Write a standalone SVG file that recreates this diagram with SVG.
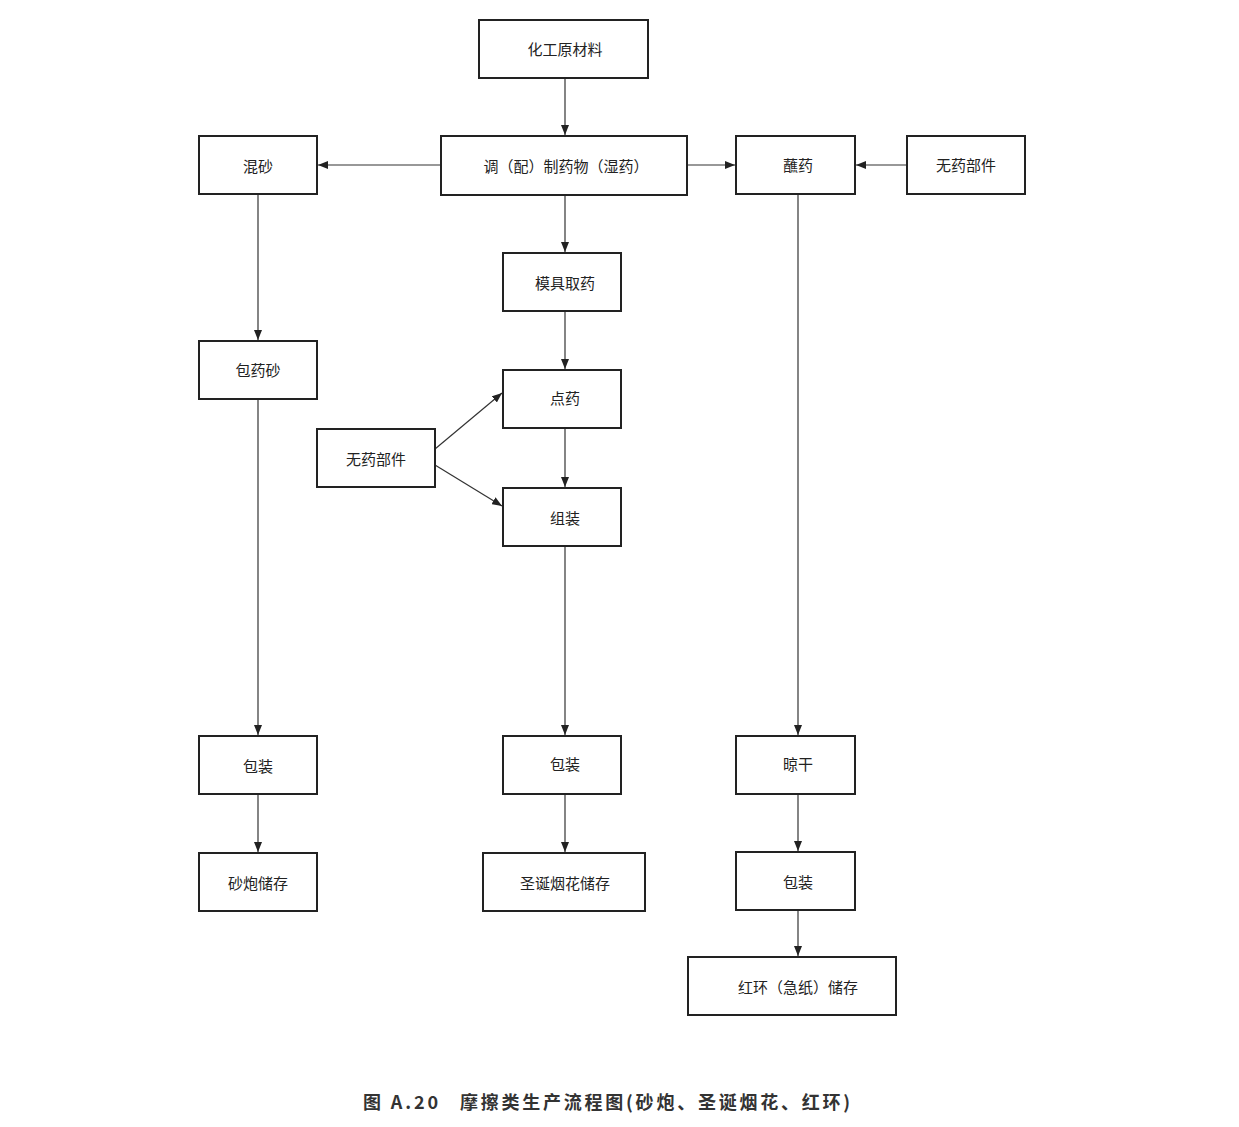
<svg xmlns="http://www.w3.org/2000/svg" width="1239" height="1127" viewBox="0 0 1239 1127">
<defs>
<style>
.box{fill:#fff;stroke:#222;stroke-width:2}
.t{font-family:"Noto Sans CJK SC","Liberation Sans",sans-serif;font-size:15px;fill:#222;text-anchor:middle;dominant-baseline:central}
.c{stroke:#333;stroke-width:1.2;fill:none;marker-end:url(#ah)}
.cap{font-family:"Noto Sans CJK SC","Liberation Sans",sans-serif;font-size:18px;font-weight:bold;fill:#333}
</style>
<marker id="ah" viewBox="0 0 10 8" refX="10" refY="4" markerWidth="10" markerHeight="8" markerUnits="userSpaceOnUse" orient="auto">
<path d="M0,0 L10,4 L0,8 Z" fill="#222"/>
</marker>
</defs>
<rect width="1239" height="1127" fill="#fff"/>
<g id="connectors">
<line class="c" x1="565" y1="78" x2="565" y2="135"/>
<line class="c" x1="441" y1="165" x2="318" y2="165"/>
<line class="c" x1="687" y1="165" x2="735" y2="165"/>
<line class="c" x1="907" y1="165" x2="856" y2="165"/>
<line class="c" x1="565" y1="195" x2="565" y2="252"/>
<line class="c" x1="565" y1="311" x2="565" y2="369"/>
<line class="c" x1="565" y1="428" x2="565" y2="487"/>
<line class="c" x1="565" y1="546" x2="565" y2="735"/>
<line class="c" x1="565" y1="794" x2="565" y2="852"/>
<line class="c" x1="258" y1="194" x2="258" y2="340"/>
<line class="c" x1="258" y1="399" x2="258" y2="735"/>
<line class="c" x1="258" y1="794" x2="258" y2="852"/>
<line class="c" x1="798" y1="194" x2="798" y2="735"/>
<line class="c" x1="798" y1="794" x2="798" y2="851"/>
<line class="c" x1="798" y1="910" x2="798" y2="956"/>
<line class="c" x1="435" y1="449" x2="502" y2="393"/>
<line class="c" x1="435" y1="465" x2="502" y2="506"/>
</g>
<g id="n1"><rect class="box" x="479" y="20" width="169" height="58"/><text class="t" x="565" y="48">化工原材料</text></g>
<g id="n2"><rect class="box" x="441" y="136" width="246" height="59"/><text class="t" x="566" y="165">调（配）制药物（湿药）</text></g>
<g id="n3"><rect class="box" x="199" y="136" width="118" height="58"/><text class="t" x="258" y="165">混砂</text></g>
<g id="n4"><rect class="box" x="736" y="136" width="119" height="58"/><text class="t" x="798" y="164">蘸药</text></g>
<g id="n5"><rect class="box" x="907" y="136" width="118" height="58"/><text class="t" x="966" y="164">无药部件</text></g>
<g id="n6"><rect class="box" x="503" y="253" width="118" height="58"/><text class="t" x="565" y="282">模具取药</text></g>
<g id="n7"><rect class="box" x="199" y="341" width="118" height="58"/><text class="t" x="258" y="369">包药砂</text></g>
<g id="n8"><rect class="box" x="503" y="370" width="118" height="58"/><text class="t" x="565" y="397">点药</text></g>
<g id="n9"><rect class="box" x="317" y="429" width="118" height="58"/><text class="t" x="376" y="458">无药部件</text></g>
<g id="n10"><rect class="box" x="503" y="488" width="118" height="58"/><text class="t" x="565" y="517">组装</text></g>
<g id="n11"><rect class="box" x="199" y="736" width="118" height="58"/><text class="t" x="258" y="765">包装</text></g>
<g id="n12"><rect class="box" x="503" y="736" width="118" height="58"/><text class="t" x="565" y="763">包装</text></g>
<g id="n13"><rect class="box" x="736" y="736" width="119" height="58"/><text class="t" x="798" y="763">晾干</text></g>
<g id="n14"><rect class="box" x="199" y="853" width="118" height="58"/><text class="t" x="258" y="882">砂炮储存</text></g>
<g id="n15"><rect class="box" x="483" y="853" width="162" height="58"/><text class="t" x="565" y="882">圣诞烟花储存</text></g>
<g id="n16"><rect class="box" x="736" y="852" width="119" height="58"/><text class="t" x="798" y="881">包装</text></g>
<g id="n17"><rect class="box" x="688" y="957" width="208" height="58"/><text class="t" x="798" y="986">红环（急纸）储存</text></g>
<text class="cap" x="363" y="1109" textLength="75" lengthAdjust="spacing">图 A.20</text>
<text class="cap" x="460" y="1109" textLength="390" lengthAdjust="spacing">摩擦类生产流程图(砂炮、圣诞烟花、红环)</text>
</svg>
